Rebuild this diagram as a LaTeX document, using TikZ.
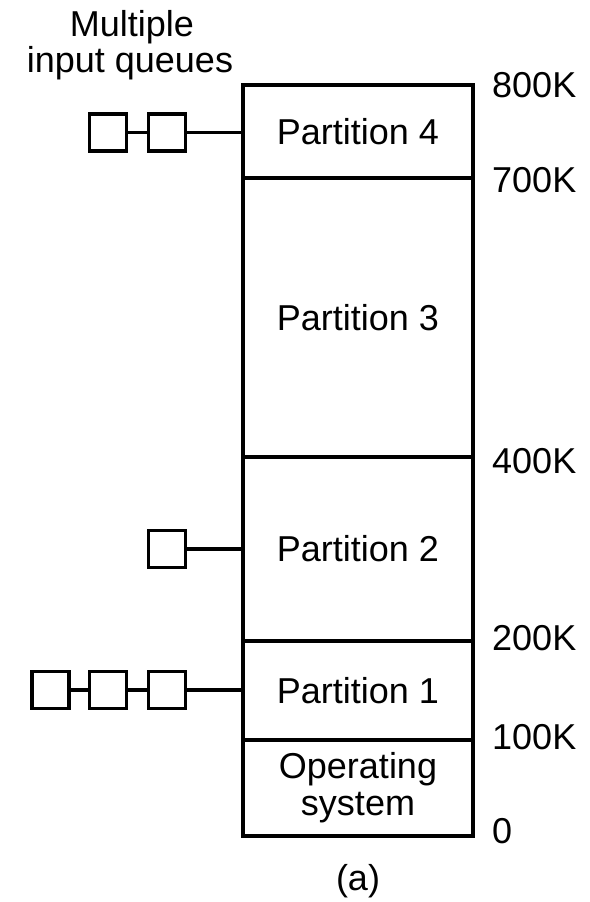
\documentclass[tikz,border=0pt]{standalone}
\usepackage{fontspec}
\setmainfont{Liberation Sans}
\begin{document}
\begin{tikzpicture}[x=1pt,y=-1pt,
  lbl/.style={font=\fontsize{36}{37}\selectfont, inner sep=0pt},
  part/.style={draw, line width=3.2pt, minimum width=230pt, inner sep=0pt, lbl, align=center},
  qbox/.style={draw, line width=3.2pt, minimum width=37pt, minimum height=37pt, inner sep=0pt},
  conn/.style={line width=3.2pt}]
\useasboundingbox (0,0) rectangle (589,902);
\fill[white] (0,0) rectangle (589,902);
% memory partitions
\node[part, minimum height=93pt]  (p4) at (358,131.5) {Partition 4};
\node[part, minimum height=279pt] (p3) at (358,317.5) {Partition 3};
\node[part, minimum height=184pt] (p2) at (358,549)   {Partition 2};
\node[part, minimum height=99pt]  (p1) at (358,690.5) {Partition 1};
\node[part, minimum height=96pt]  (os) at (358,788)   {Operating\\system};
% address labels
\node[lbl, anchor=base west] (a800) at (492,97)  {800K};
\node[lbl, anchor=base west] (a700) at (492,192) {700K};
\node[lbl, anchor=base west] (a400) at (492,473) {400K};
\node[lbl, anchor=base west] (a200) at (492,650) {200K};
\node[lbl, anchor=base west] (a100) at (492,749) {100K};
\node[lbl, anchor=base west] (a0)   at (492,843) {0};
% title
\node[lbl, anchor=base] (t1) at (132,36) {Multiple};
\node[lbl, anchor=base] (t2) at (130,72) {input queues};
% caption
\node[lbl, anchor=base] (cap) at (358,890) {(a)};
% queues for partition 4
\node[qbox] (q4a) at (108,132.5) {};
\node[qbox] (q4b) at (167,132.5) {};
\draw[conn] (q4a) -- (q4b);
\draw[conn] (q4b.east) -- (q4b.east -| p4.west);
% queue for partition 2
\node[qbox] (q2a) at (167,549) {};
\draw[conn] (q2a.east) -- (q2a.east -| p2.west);
% queues for partition 1
\node[qbox] (q1a) at (50.5,690) {};
\node[qbox] (q1b) at (108,690) {};
\node[qbox] (q1c) at (167,690) {};
\draw[conn] (q1a) -- (q1b);
\draw[conn] (q1b) -- (q1c);
\draw[conn] (q1c.east) -- (q1c.east -| p1.west);
\end{tikzpicture}
\end{document}
